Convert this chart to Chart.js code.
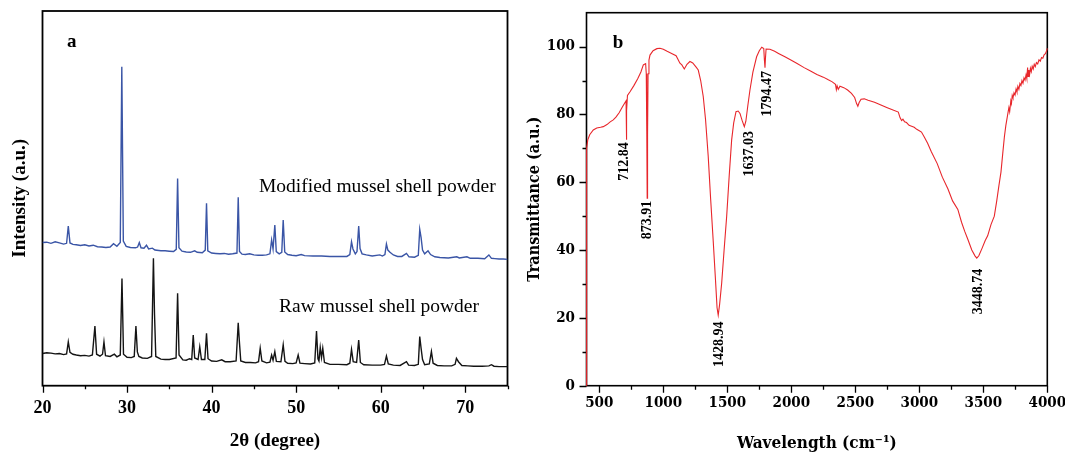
<!DOCTYPE html>
<html>
<head>
<meta charset="utf-8">
<script src="https://cdn.jsdelivr.net/npm/chart.js@4.4.1/dist/chart.umd.min.js"></script>
<style>
  html, body { margin: 0; padding: 0; background: #fff; }
  #wrap { position: relative; width: 1065px; height: 452px; overflow: hidden; }
  #xrd { position: absolute; left: 0; top: 0; }
  #ftir { position: absolute; left: 515px; top: 0; }
</style>
</head>
<body>
<div id="wrap">
  <canvas id="xrd" width="515" height="452"></canvas>
  <canvas id="ftir" width="550" height="452"></canvas>
</div>
<script>
// ---- panel a: XRD, [2theta, intensity (a.u.)] ----
const seriesNames = ['Modified mussel shell powder', 'Raw mussel shell powder'];

const modifiedShell = [
  [20,382],[20.5,383],[21,380],[21.5,384],[22,381],[22.5,378],[22.85,380],[23.05,426],[23.25,381],[23.6,377],
  [24,376],[24.5,374],[25,376],[25.5,373],[26,375],[26.5,371],[27,370],[27.5,369],[28,370],[28.4,379],
  [28.8,372],[29.2,382],[29.38,851],[29.56,386],[29.9,372],[30.4,369],[31,368],[31.25,370],
  [31.45,382],[31.65,368],[32,367],[32.3,375],[32.55,365],[33,367],[33.3,362],[34,360],[34.5,360],[35,359],
  [35.5,358],[35.82,364],[35.98,553],[36.14,368],[36.5,359],[37,357],[37.5,356],[38,360],[38.3,356],[38.9,355],
  [39.25,362],[39.4,487],[39.55,360],[40,354],[40.5,353],[41,352],[41.5,353],[42,351],[42.5,352],[43,354],
  [43.15,503],[43.3,358],[43.6,351],[44,350],[44.5,352],[45,349],[45.5,348],[46,348],[46.5,349],[46.9,352],
  [47.1,389],[47.27,365],[47.48,429],[47.65,358],[48,352],[48.3,356],[48.47,442],[48.65,357],[49,350],[49.5,348],
  [50,347],[50.6,350],[51,347],[52,346],[53,346],[54,345],[55,345],[56,345],[56.35,350],[56.55,384],
  [56.72,365],[57,352],[57.2,358],[57.4,426],[57.56,366],[57.8,352],[58.3,349],[59,346],[59.9,349],[60.2,346],
  [60.5,350],[60.68,378],[60.85,362],[61.1,356],[61.5,349],[62,345],[62.5,345],[63.05,353],[63.35,344],[64,343],
  [64.45,348],[64.62,417],[64.78,395],[64.95,362],[65.2,352],[65.6,360],[65.9,350],[66.4,344],[67,342],[68,341],
  [69,344],[69.3,341],[70.2,344],[70.6,340],[71.5,340],[72.3,339],[72.8,349],[73.1,340],[73.5,339],[74,338],
  [74.5,338],[75,337]
];

const rawShell = [
  [20,86],[20.5,88],[21,87],[21.5,85],[22,86],[22.5,83],[22.85,85],[23.05,117],[23.25,89],[23.6,84],
  [24,82],[24.5,80],[25,81],[25.5,79],[25.9,82],[26.2,159],[26.4,84],[26.8,79],[27.1,84],[27.27,117],
  [27.45,80],[28,78],[28.5,84],[28.8,77],[29.2,82],[29.4,286],[29.58,84],[30,76],
  [30.5,75],[30.85,78],[31.05,159],[31.22,90],[31.4,78],[31.8,74],[32.4,73],[32.9,78],[33.12,340],
  [33.25,190],[33.4,78],[34,71],[34.5,70],[35,70],[35.8,74],[35.98,247],[36.15,82],[36.6,69],[37,68],
  [37.4,72],[37.65,70],[37.83,135],[38,74],[38.4,70],[38.6,104],[38.8,70],[39.2,70],[39.4,140],[39.58,72],
  [40,66],[40.6,65],[41.2,69],[41.6,64],[42.2,64],[42.9,66],[43.15,168],[43.28,120],[43.45,66],
  [44,62],[44.6,62],[45.2,61],[45.55,64],[45.75,100],[45.95,66],[46.5,61],[46.9,63],[47.1,82],[47.27,68],
  [47.48,91],[47.66,65],[48.2,64],[48.47,109],[48.68,65],[49,60],[49.6,59],[50,61],[50.24,82],[50.45,60],
  [51,59],[51.7,58],[52.2,61],[52.41,146],[52.58,72],[52.7,66],[52.85,102],[53,75],[53.15,100],[53.35,62],
  [54,57],[55,57],[56,56],[56.35,60],[56.55,97],[56.75,64],[57.15,62],[57.4,122],[57.6,62],[58,56],
  [59,55],[60,55],[60.45,57],[60.68,79],[60.9,58],[61.5,55],[62.3,54],[63.05,64],[63.3,55],[64,54],
  [64.45,57],[64.62,131],[64.78,100],[64.95,70],[65.2,56],[65.75,58],[66,91],[66.2,60],[66.7,54],[67.5,53],
  [68.4,53],[68.8,57],[68.96,73],[69.2,64],[69.6,54],[70.3,53],[71,52],[72,52],[72.8,53],[73.1,56],
  [73.4,52],[74,51],[75,51]
];

const xrdTickLabels = [20, 30, 40, 50, 60, 70];
const xrdMinorTicks = [25, 35, 45, 55, 65, 75];

// ---- panel b: FTIR, [wavenumber, transmittance] ----
const ftirSpectrum = [
  [400,0],[401,70],[410,72.5],[425,74],[453,75.4],[480,76],[510,76.2],[531,76.4],[560,77],[585,77.8],
  [609,78.4],[630,79.2],[655,80.5],[680,82.2],[701,83.5],[709,84],[711,79],[713,72.5],[715,81],[720,85.6],
  [740,86.7],[770,88.5],[800,90.5],[825,92.5],[844,94.6],[862,95],[867,92],[871,75],[874,55.3],[877,74],
  [881,92],[888,96],[896,97.5],[920,98.8],[950,99.4],[974,99.5],[1000,99.2],[1030,98.6],[1065,98],[1100,97.3],
  [1130,95.1],[1145,94.6],[1164,93.4],[1185,94.8],[1208,95.6],[1230,95.2],[1255,94],[1273,93.1],[1292,90],[1312,85.3],
  [1330,78.5],[1351,67.6],[1370,55],[1391,42],[1408,31],[1420,23],[1429,20.8],[1440,24],[1456,30.2],[1475,40],
  [1495,49.9],[1515,62],[1534,72.5],[1550,77.5],[1568,80.8],[1585,81],[1599,80.3],[1615,78.3],[1633,76.4],[1645,78],
  [1660,82.5],[1677,87.2],[1700,92.5],[1729,97],[1750,98.8],[1769,99.8],[1785,99.4],[1790,96],[1794.5,93.8],[1798,96.5],
  [1803,99.3],[1833,99.2],[1870,98.6],[1900,98],[1950,97],[2000,96],[2042,95.1],[2100,93.8],[2150,92.8],[2200,91.8],
  [2250,91],[2289,90.2],[2320,89.6],[2345,88.9],[2352,87.3],[2358,88.4],[2367,87.4],[2380,88.3],[2410,87.9],[2440,87.2],
  [2470,86.2],[2495,85],[2510,83.2],[2520,82.4],[2530,83.5],[2545,84.5],[2570,84.6],[2600,84.2],[2650,83.6],[2700,82.8],
  [2750,82],[2800,81.2],[2836,80.7],[2850,79],[2862,78.2],[2872,78.6],[2885,77.8],[2900,77.6],[2920,76.8],[2940,76.5],
  [2960,76.2],[2980,75.6],[3000,75.2],[3017,74.8],[3040,73.3],[3065,71.5],[3094,69],[3140,65.5],[3180,61.5],[3224,58],
  [3260,54.5],[3301,52],[3330,48.2],[3355,45.5],[3379,43.2],[3410,40],[3435,38.3],[3449,37.6],[3465,38.3],[3490,40.5],
  [3515,42.8],[3534,44.2],[3560,47.5],[3586,50],[3605,54.5],[3622,59],[3638,63],[3652,68.5],[3665,73.5],[3676,76.7],
  [3692,80.3],[3700,82],[3706,80.8],[3715,84],[3720,83.2],[3726,85.6],[3732,84.9],[3740,86.4],[3748,85.7],[3756,87.5],
  [3763,86.6],[3770,88.3],[3778,87.4],[3786,89.1],[3794,88.5],[3802,90],[3810,89.2],[3818,90.8],[3826,90.1],[3834,91.7],
  [3840,90.6],[3846,93.8],[3850,91.2],[3856,93.1],[3862,91.8],[3868,93.6],[3875,92.6],[3882,94.2],[3890,93.4],[3898,94.8],
  [3906,94.1],[3915,95.3],[3925,94.9],[3935,96.1],[3945,95.7],[3955,96.8],[3965,96.6],[3975,97.6],[3985,97.9],[3995,98.8],
  [4000,99.5]
];

const ftirPeakLabels = ['712.84', '873.91', '1428.94', '1637.03', '1794.47', '3448.74'];
const ftirXTickLabels = [500, 1000, 1500, 2000, 2500, 3000, 3500, 4000];
const ftirXMinorTicks = [750, 1250, 1750, 2250, 2750, 3250, 3750];
const ftirYTickLabels = [0, 20, 40, 60, 80, 100];
const ftirYMinorTicks = [10, 30, 50, 70, 90];

const toPoints = arr => arr.map(p => ({ x: p[0], y: p[1] }));

// frame, outward ticks and text notes, placed through the scales
const decorPlugin = {
  id: 'decor',
  beforeDatasetsDraw(chart, args, opts) {
    const { ctx, chartArea: a, scales } = chart;
    ctx.save();
    ctx.strokeStyle = '#000';
    ctx.lineWidth = opts.frame;
    ctx.strokeRect(a.left, a.top, a.right - a.left, a.bottom - a.top);
    ctx.lineWidth = 1.3;
    ctx.beginPath();
    const xt = (vals, len) => vals.forEach(v => {
      const px = Math.round(scales.x.getPixelForValue(v)) + 0.5;
      ctx.moveTo(px, a.bottom); ctx.lineTo(px, a.bottom + len);
    });
    const yt = (vals, len) => vals.forEach(v => {
      const py = Math.round(scales.y.getPixelForValue(v)) + 0.5;
      ctx.moveTo(a.left, py); ctx.lineTo(a.left - len, py);
    });
    xt(opts.xMajor, opts.majorLen); xt(opts.xMinor, opts.minorLen);
    yt(opts.yMajor, opts.majorLen); yt(opts.yMinor, opts.minorLen);
    ctx.stroke();
    ctx.restore();
  },
  afterDatasetsDraw(chart, args, opts) {
    const { ctx, scales } = chart;
    ctx.save();
    ctx.fillStyle = '#000';
    opts.texts.forEach(t => {
      const px = scales.x.getPixelForValue(t.x);
      const py = scales.y.getPixelForValue(t.y);
      ctx.font = t.font;
      ctx.save();
      ctx.translate(px, py);
      ctx.textAlign = 'center';
      if (t.rotate) {
        ctx.rotate(-Math.PI / 2);
        ctx.textBaseline = 'middle';
      } else {
        ctx.textBaseline = 'alphabetic';
      }
      ctx.fillText(t.text, 0, 0);
      ctx.restore();
    });
    ctx.restore();
  }
};

// fixed scale boxes so the plot areas land where the reference has them
const fixBox = (w, h) => s => {
  if (w != null) s.width = w;
  if (h != null) s.height = h;
  s.paddingTop = 0; s.paddingBottom = 0; s.paddingLeft = 0; s.paddingRight = 0;
};

const serifA = '"Liberation Serif", "Times New Roman", serif';
const serifB = '"DejaVu Serif Condensed", "DejaVu Serif", serif';

new Chart(document.getElementById('xrd'), {
  type: 'line',
  data: {
    datasets: [
      { label: seriesNames[0], data: toPoints(modifiedShell), borderColor: '#3a55a6', borderWidth: 1.4, pointRadius: 0, tension: 0 },
      { label: seriesNames[1], data: toPoints(rawShell), borderColor: '#141414', borderWidth: 1.4, pointRadius: 0, tension: 0 }
    ]
  },
  options: {
    responsive: false,
    animation: false,
    devicePixelRatio: 1,
    layout: { padding: { top: 11, right: 7.5, left: 0, bottom: 0 } },
    plugins: {
      legend: { display: false },
      tooltip: { enabled: false },
      decor: {
        frame: 1.8, majorLen: 7, minorLen: 3.5,
        xMajor: xrdTickLabels, xMinor: xrdMinorTicks, yMajor: [], yMinor: [],
        texts: [
          { text: 'a', x: 23.45, y: 905, font: 'bold 19px ' + serifA },
          { text: seriesNames[0], x: 59.6, y: 518, font: '19.5px ' + serifA },
          { text: seriesNames[1], x: 59.8, y: 197, font: '19.5px ' + serifA }
        ]
      }
    },
    scales: {
      x: {
        type: 'linear', min: 20, max: 75,
        afterBuildTicks: s => { s.ticks = xrdTickLabels.map(v => ({ value: v })); },
        afterFit: fixBox(null, 66.3),
        grid: { display: false, drawTicks: false },
        border: { display: false },
        ticks: { padding: 11.5, color: '#000', autoSkip: false, maxRotation: 0, callback: v => String(v), font: { family: serifA, size: 18, weight: 'bold' } },
        title: { display: true, text: '2θ (degree)', color: '#000', padding: { top: 0, bottom: 0 }, font: { family: serifA, size: 19, weight: 'bold' } }
      },
      y: {
        type: 'linear', min: 0, max: 1000,
        afterFit: fixBox(42.5, null),
        grid: { display: false, drawTicks: false },
        border: { display: false },
        ticks: { display: false },
        title: { display: true, text: 'Intensity (a.u.)', color: '#000', padding: { top: 8.4, bottom: 0 }, font: { family: serifA, size: 19, weight: 'bold' } }
      }
    }
  },
  plugins: [decorPlugin]
});

const peakX = [697, 877, 1435, 1673, 1815, 3463];
const peakY = [66.1, 48.9, 12.2, 68.4, 86.1, 27.8];

new Chart(document.getElementById('ftir'), {
  type: 'line',
  data: {
    datasets: [
      { label: 'FTIR', data: toPoints(ftirSpectrum), borderColor: '#e8262b', borderWidth: 1.1, pointRadius: 0, tension: 0, clip: false }
    ]
  },
  options: {
    responsive: false,
    animation: false,
    devicePixelRatio: 1,
    layout: { padding: { top: 12.7, right: 17.7, left: 0, bottom: 0 } },
    plugins: {
      legend: { display: false },
      tooltip: { enabled: false },
      decor: {
        frame: 1.6, majorLen: 7, minorLen: 4,
        xMajor: ftirXTickLabels, xMinor: ftirXMinorTicks, yMajor: ftirYTickLabels, yMinor: ftirYMinorTicks,
        texts: [{ text: 'b', x: 647, y: 99.5, font: 'bold 19px ' + serifA }].concat(
          ftirPeakLabels.map((s, i) => ({ text: s, x: peakX[i], y: peakY[i], rotate: true, font: 'bold 14px ' + serifA }))
        )
      }
    },
    scales: {
      x: {
        type: 'linear', min: 400, max: 4000,
        afterBuildTicks: s => { s.ticks = ftirXTickLabels.map(v => ({ value: v })); },
        afterFit: fixBox(null, 66.3),
        grid: { display: false, drawTicks: false },
        border: { display: false },
        ticks: { padding: 8, color: '#000', autoSkip: false, maxRotation: 0, callback: v => String(v), font: { family: serifB, size: 15, weight: 'bold' } },
        title: { display: true, text: 'Wavelength (cm⁻¹)', color: '#000', padding: { top: 0, bottom: 0 }, font: { family: serifB, size: 17, weight: 'bold', lineHeight: 1.0 } }
      },
      y: {
        type: 'linear', min: 0, max: 110,
        afterBuildTicks: s => { s.ticks = ftirYTickLabels.map(v => ({ value: v })); },
        afterFit: fixBox(71.5, null),
        grid: { display: false, drawTicks: false },
        border: { display: false },
        ticks: { padding: 11.5, color: '#000', autoSkip: false, callback: v => String(v), font: { family: serifB, size: 15, weight: 'bold' } },
        title: { display: true, text: 'Transmittance (a.u.)', color: '#000', padding: { top: 10, bottom: 0 }, font: { family: serifB, size: 16, weight: 'bold' } }
      }
    }
  },
  plugins: [decorPlugin]
});
</script>
</body>
</html>
